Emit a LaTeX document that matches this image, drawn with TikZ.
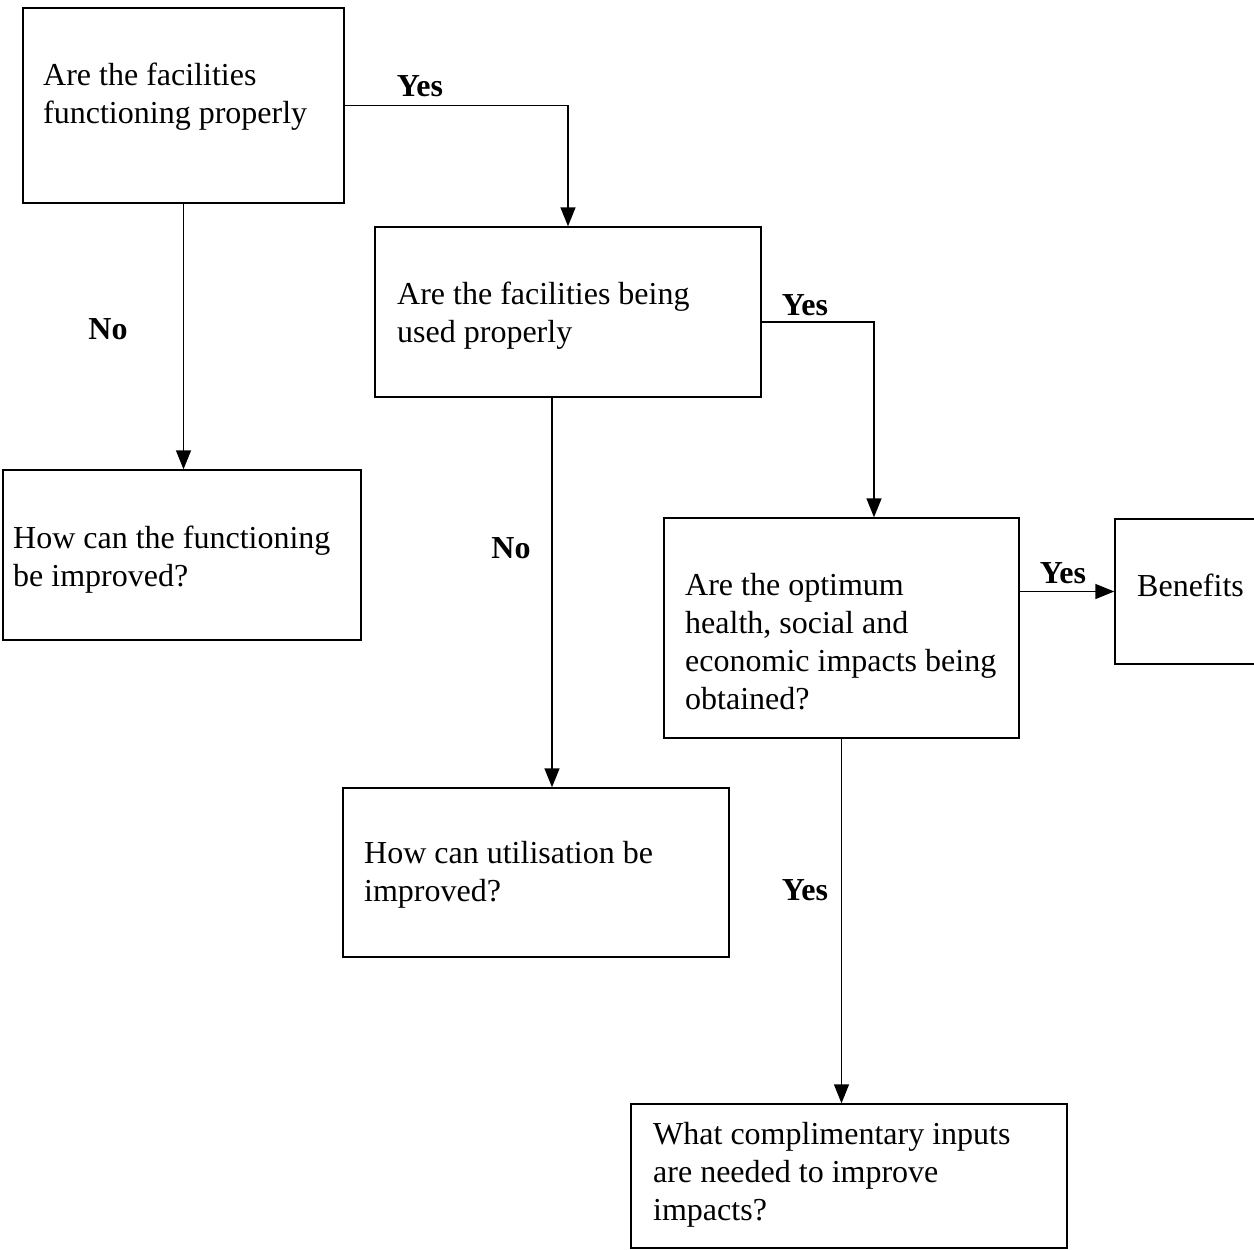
\documentclass[tikz,border=0pt]{standalone}
\usepackage{fontspec}
\setmainfont{Liberation Serif}
\usetikzlibrary{arrows.meta}
\begin{document}
\begin{tikzpicture}[x=1pt,y=-1pt,
  box/.style={draw, line width=1.4pt, inner sep=0pt},
  txt/.style={anchor=base west, align=left, inner sep=0pt, font=\fontsize{32}{38}\selectfont},
  lbl/.style={anchor=center, inner sep=0pt, font=\fontsize{32}{36}\selectfont\bfseries},
  conn/.style={line width=1.4pt, -{Triangle[length=19pt,width=15pt]}}]
\useasboundingbox (0,0) rectangle (1254,1250);
\fill[white] (0,0) rectangle (1254,1250);
% boxes
\node[box, minimum width=321pt, minimum height=195pt] (a) at (183.5,105.5) {};
\node[box, minimum width=386pt, minimum height=170pt] (b) at (568,312) {};
\node[box, minimum width=358pt, minimum height=170pt] (c) at (182,555) {};
\node[box, minimum width=355pt, minimum height=220pt] (d) at (841.5,628) {};
\node[box, minimum width=141pt, minimum height=145pt] (e) at (1185.5,591.5) {};
\node[box, minimum width=386pt, minimum height=169pt] (f) at (536,872.5) {};
\node[box, minimum width=436pt, minimum height=144pt] (g) at (849,1176) {};
% texts (anchor = baseline of last line)
\node[txt] (at) at (43,123) {Are the facilities\\functioning properly};
\node[txt] (bt) at (397,342) {Are the facilities being\\used properly};
\node[txt] (ct) at (13,586) {How can the functioning\\be improved?};
\node[txt, font=\fontsize{32}{37.7}\selectfont] (dt) at (685,709) {Are the optimum\\health, social and\\economic impacts being\\obtained?};
\node[txt] (et) at (1137,596) {Benefits};
\node[txt] (ft) at (364,901) {How can utilisation be\\improved?};
\node[txt] (gt) at (653,1220) {What complimentary inputs\\are needed to improve\\impacts?};
% connectors
\draw[conn] (a.east) -| (b.north);
\draw[conn] (a.south) -- (a.south |- c.north);
\draw[conn] ([yshift=-10pt]b.east) -| ([xshift=32.5pt]d.north);
\draw[conn] ([xshift=-16pt]b.south) -- ([xshift=-16pt]b.south |- f.north);
\draw[conn] (d.east |- e.west) -- (e.west);
\draw[conn] (d.south) -- (d.south |- g.north);
% labels
\node[lbl] (l1) at (420,86) {Yes};
\node[lbl] (l2) at (108,329) {No};
\node[lbl] (l3) at (805,305) {Yes};
\node[lbl] (l4) at (511,548) {No};
\node[lbl] (l5) at (1063,573) {Yes};
\node[lbl] (l6) at (805,890) {Yes};
\end{tikzpicture}
\end{document}
